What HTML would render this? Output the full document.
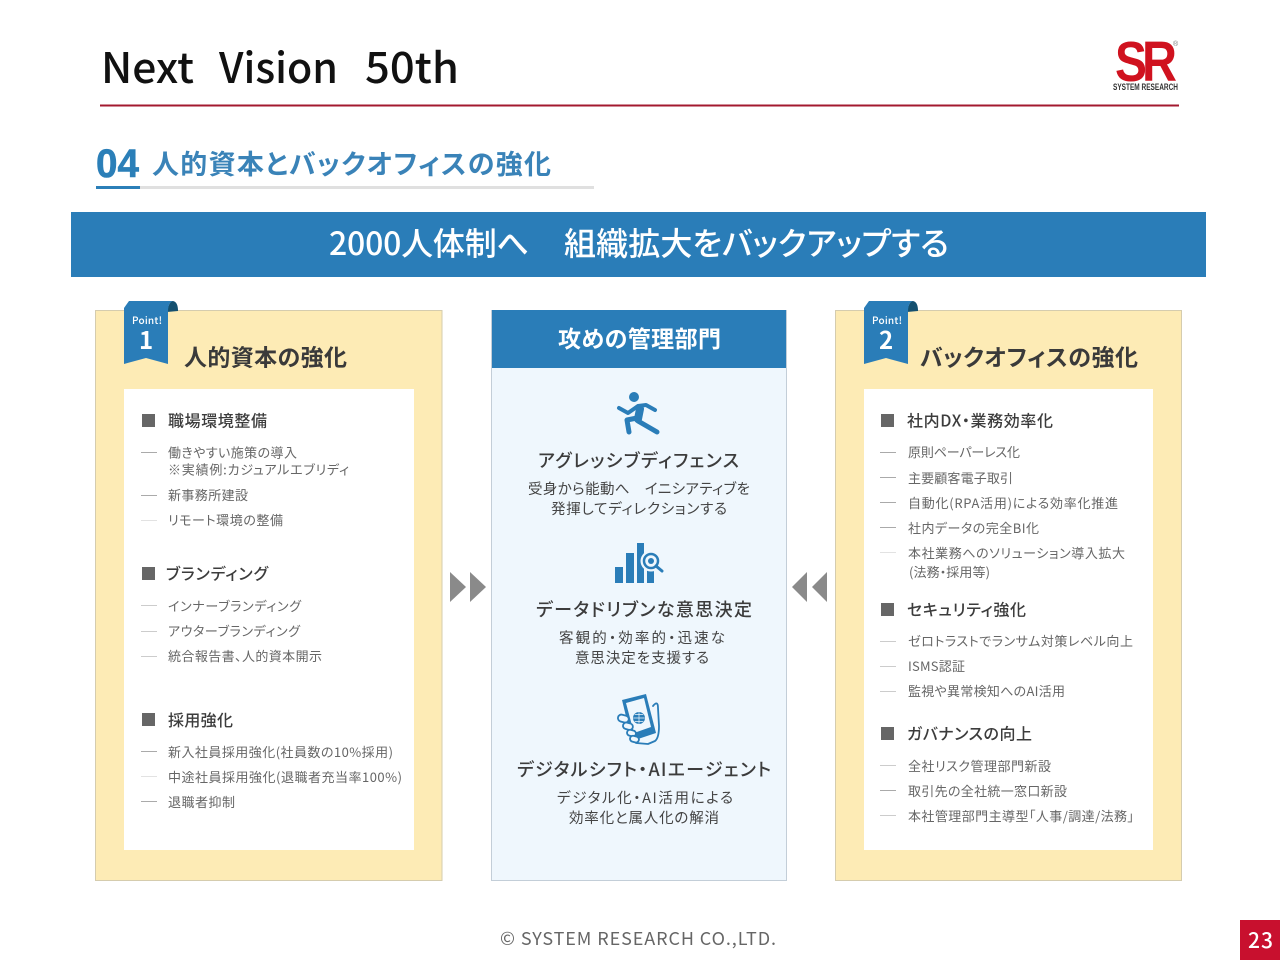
<!DOCTYPE html>
<html lang="ja"><head><meta charset="utf-8"><title>Next Vision 50th</title>
<style>
html,body{margin:0;padding:0;background:#fff;width:1280px;height:960px;overflow:hidden}
svg{display:block}
text{font-family:"Noto Sans CJK JP","Liberation Sans",sans-serif;font-feature-settings:"palt"}
.b{font-size:13px;fill:#666;font-weight:400}
.h{font-size:16px;fill:#3c3c3c;font-weight:500}
.m1{font-size:18px;fill:#3c3c3c;font-weight:500}
.m2{font-size:14.5px;fill:#444;font-weight:400}
.pt{font-size:23px;fill:#3a3a3a;font-weight:700}
</style></head><body>
<svg xmlns="http://www.w3.org/2000/svg" width="1280" height="960" viewBox="0 0 1280 960">
<rect width="1280" height="960" fill="#fff"/>
<!-- title -->
<g font-size="42" fill="#111" font-weight="500">
<text x="101" y="83" textLength="93" lengthAdjust="spacingAndGlyphs">Next</text>
<text x="219" y="83" textLength="119" lengthAdjust="spacingAndGlyphs">Vision</text>
<text x="365" y="83" textLength="94" lengthAdjust="spacingAndGlyphs">50th</text>
</g>
<rect x="100" y="104.500" width="1079" height="2" fill="#a3192f"/>
<!-- logo -->
<text x="1115" y="81" textLength="32" lengthAdjust="spacingAndGlyphs" font-size="57" font-weight="700" fill="#d0121f" style="font-family:'Liberation Sans',sans-serif">S</text>
<text x="1142" y="81" textLength="35" lengthAdjust="spacingAndGlyphs" font-size="57" font-weight="700" fill="#d0121f" style="font-family:'Liberation Sans',sans-serif">R</text>
<text x="1113" y="90" textLength="65" lengthAdjust="spacingAndGlyphs" font-size="9" font-weight="700" fill="#333" style="font-family:'Liberation Sans',sans-serif">SYSTEM RESEARCH</text>
<text x="1173" y="46" font-size="7" fill="#777" style="font-family:'Liberation Sans',sans-serif">®</text>
<!-- section heading -->
<text x="96" y="177" textLength="43" lengthAdjust="spacingAndGlyphs" font-size="40" font-weight="700" fill="#2b7fb8" stroke="#2b7fb8" stroke-width=".6" style="font-family:'Liberation Sans',sans-serif">04</text>
<text x="152" y="174" textLength="399" font-size="27" font-weight="700" fill="#3a83b8">人的資本とバックオフィスの強化</text>
<rect x="96" y="186" width="498" height="3" fill="#e0e0e0"/>
<rect x="96" y="186" width="44" height="3" fill="#2b7fb8"/>
<!-- banner -->
<rect x="71" y="212" width="1135" height="65" fill="#2a7db8"/>
<text x="329" y="255" textLength="200" font-size="32" font-weight="500" fill="#fff">2000人体制へ</text>
<text x="564" y="255" textLength="385" font-size="32" font-weight="500" fill="#fff">組織拡大をバックアップする</text>
<!-- panels -->
<rect x="95.500" y="310.500" width="346.500" height="570" fill="#fdebb5" stroke="#d5ccae"/>
<rect x="124" y="389" width="290" height="461" fill="#fff"/>
<rect x="835.500" y="310.500" width="346" height="570" fill="#fdebb5" stroke="#d5ccae"/>
<rect x="864" y="389" width="289" height="461" fill="#fff"/>
<rect x="491.500" y="310.500" width="295" height="570" fill="#eff7fd" stroke="#c3ced8"/>
<rect x="492" y="310" width="294" height="58" fill="#2a7db8"/>
<text x="558" y="347" textLength="163" font-size="23" font-weight="700" fill="#fff">攻めの管理部門</text>
<!-- ribbons -->
<g>
<path d="M167 312 Q169 301 173 301 Q178 302 178 311Z" fill="#14506f"/>
<path d="M124 308 L129 301 L173 301 Q168 302 168 312 L168 364 L146 358 L124 364Z" fill="#2a7db8"/>
<text x="132" y="324" textLength="30" font-size="10" font-weight="500" fill="#fff">Point!</text>
<text x="139" y="349" font-size="24" font-weight="700" fill="#fff">1</text>
</g>
<g>
<path d="M907 312 Q909 301 913 301 Q918 302 918 311Z" fill="#14506f"/>
<path d="M864 308 L869 301 L913 301 Q908 302 908 312 L908 364 L886 358 L864 364Z" fill="#2a7db8"/>
<text x="872" y="324" textLength="30" font-size="10" font-weight="500" fill="#fff">Point!</text>
<text x="879" y="349" font-size="24" font-weight="700" fill="#fff">2</text>
</g>
<text class="pt" x="184" y="365.500" textLength="163">人的資本の強化</text>
<text class="pt" x="920" y="365.500" textLength="218">バックオフィスの強化</text>
<!-- squares -->
<g fill="#666">
<rect x="142" y="414" width="13" height="13"/><rect x="142" y="567" width="13" height="13"/><rect x="142" y="713" width="13" height="13"/>
<rect x="881" y="414" width="13" height="13"/><rect x="881" y="603" width="13" height="13"/><rect x="881" y="727" width="13" height="13"/>
</g>
<!-- dashes -->
<g stroke-width="1">
<path stroke="#aaa" d="M141 452.500H157M141 495.500H157M141 751.500H157M141 801.500H157"/>
<path stroke="#ccc" d="M141 605.500H157M141 631.500H157M141 656.500H157"/>
<path stroke="#e2e2e2" d="M141 520.500H157M141 776.500H157"/>
<path stroke="#aaa" d="M880 452.500H896M880 477.500H896M880 502.500H896M880 527.500H896M880 790.500H896"/>
<path stroke="#ccc" d="M880 641.500H896M880 666.500H896M880 691.500H896M880 765.500H896M880 815.500H896"/>
<path stroke="#e2e2e2" d="M880 552.500H896"/>
</g>
<!-- left text -->
<text class="h" x="168" y="426.500" textLength="99">職場環境整備</text>
<text class="b" x="168" y="457.500" textLength="129">働きやすい施策の導入</text>
<text class="b" x="168" y="474.500" textLength="181">※実績例:カジュアルエブリディ</text>
<text class="b" x="168" y="500" textLength="80">新事務所建設</text>
<text class="b" x="168" y="525" textLength="115">リモート環境の整備</text>
<text class="h" x="166" y="579.500" textLength="102">ブランディング</text>
<text class="b" x="168" y="611" textLength="133">インナーブランディング</text>
<text class="b" x="168" y="636" textLength="132">アウターブランディング</text>
<text class="b" x="168" y="661" textLength="154">統合報告書、人的資本開示</text>
<text class="h" x="168" y="726" textLength="65">採用強化</text>
<text class="b" x="168" y="757" textLength="225">新入社員採用強化(社員数の10%採用)</text>
<text class="b" x="168" y="782" textLength="234">中途社員採用強化(退職者充当率100%)</text>
<text class="b" x="168" y="807" textLength="67">退職者抑制</text>
<!-- middle text -->
<text class="m1" x="538" y="467" textLength="201">アグレッシブディフェンス</text>
<text class="m2" x="528" y="494" textLength="222">受身から能動へ　イニシアティブを</text>
<text class="m2" x="551" y="514" textLength="176">発揮してディレクションする</text>
<text class="m1" x="536" y="616" textLength="216">データドリブンな意思決定</text>
<text class="m2" x="559" y="643" textLength="166">客観的・効率的・迅速な</text>
<text class="m2" x="575" y="663" textLength="134">意思決定を支援する</text>
<text class="m1" x="517" y="776" textLength="254">デジタルシフト・AIエージェント</text>
<text class="m2" x="557" y="803" textLength="176">デジタル化・AI活用による</text>
<text class="m2" x="569" y="823" textLength="150">効率化と属人化の解消</text>
<!-- right text -->
<text class="h" x="907" y="426.500" textLength="146">社内DX・業務効率化</text>
<text class="b" x="908" y="457" textLength="112">原則ペーパーレス化</text>
<text class="b" x="908" y="483" textLength="105">主要顧客電子取引</text>
<text class="b" x="908" y="508" textLength="210">自動化(RPA活用)による効率化推進</text>
<text class="b" x="908" y="533" textLength="131">社内データの完全BI化</text>
<text class="b" x="908" y="558" textLength="217">本社業務へのソリューション導入拡大</text>
<text class="b" x="909" y="577" textLength="81">(法務・採用等)</text>
<text class="h" x="907" y="615.500" textLength="119">セキュリティ強化</text>
<text class="b" x="908" y="646" textLength="225">ゼロトラストでランサム対策レベル向上</text>
<text class="b" x="908" y="671" textLength="57">ISMS認証</text>
<text class="b" x="908" y="696" textLength="157">監視や異常検知へのAI活用</text>
<text class="h" x="907" y="739.500" textLength="125">ガバナンスの向上</text>
<text class="b" x="908" y="771" textLength="143">全社リスク管理部門新設</text>
<text class="b" x="908" y="796" textLength="159">取引先の全社統一窓口新設</text>
<text class="b" x="908" y="821" textLength="226">本社管理部門主導型「人事/調達/法務」</text>
<!-- arrows -->
<g fill="#8a8a8a">
<path d="M450 572L466 587L450 602Z"/><path d="M470 572L486 587L470 602Z"/>
<path d="M807 572L792 587L807 602Z"/><path d="M827 572L812 587L827 602Z"/>
</g>
<!-- runner icon -->
<g fill="none" stroke="#2a7db8" stroke-linecap="round" stroke-linejoin="round">
<circle cx="634" cy="397" r="5" fill="#2a7db8" stroke="none"/>
<path stroke-width="4" d="M619 408L628 413L638 406L646 405L655 410"/>
<path stroke-width="8" d="M640 409L638 419"/>
<path stroke-width="5" d="M638 421L657 432M637 418L627 420L629 432"/>
</g>
<!-- chart icon -->
<g fill="#2a7db8">
<rect x="615" y="567" width="8" height="16"/><rect x="626" y="553" width="8" height="30"/><rect x="637" y="543" width="7" height="40"/><rect x="647" y="570" width="7" height="13"/>
</g>
<circle cx="651" cy="561" r="10.500" fill="#eff7fd"/>
<circle cx="651" cy="561" r="7" fill="#eff7fd" stroke="#2a7db8" stroke-width="2.500"/>
<circle cx="651" cy="561" r="3" fill="#2a7db8"/>
<path d="M656 566L662 571" stroke="#2a7db8" stroke-width="3" stroke-linecap="round"/>
<!-- phone icon -->
<g fill="none" stroke="#2a7db8" stroke-width="1.800" stroke-linejoin="round" stroke-linecap="round">
<path d="M653 706Q658 700 658 708L659 726Q659 738 655 741L648 744L636 743"/>
<path fill="#2a7db8" stroke="none" d="M622 700L646 694L656 733L632 741Z"/>
<path fill="#eff7fd" stroke="none" d="M626 703L644 698L651 727L634 733Z"/>
<circle cx="639" cy="718" r="5.500" fill="#2a7db8" stroke="#2a7db8" stroke-width="1"/>
<path stroke="#eff7fd" stroke-width=".7" d="M633.500 718H644.500M639 712.500V723.500M635 714.500H643M635 721.500H643"/>
<g fill="#eff7fd">
<rect x="618" y="715" width="11" height="7" rx="3.500" transform="rotate(15 623 718)"/>
<rect x="623" y="723" width="10" height="6.500" rx="3.200" transform="rotate(15 628 726)"/>
<rect x="627" y="730" width="9" height="6" rx="3" transform="rotate(15 631 733)"/>
<rect x="630" y="736" width="9" height="6" rx="3" transform="rotate(15 634 739)"/>
</g>
</g>
<!-- footer -->
<text x="500" y="945" textLength="276" font-size="18" fill="#666">© SYSTEM RESEARCH CO.,LTD.</text>
<rect x="1240" y="920" width="40" height="40" fill="#c8102e"/>
<text x="1248" y="948" textLength="25" font-size="21" font-weight="500" fill="#fff">23</text>
</svg>
</body></html>
